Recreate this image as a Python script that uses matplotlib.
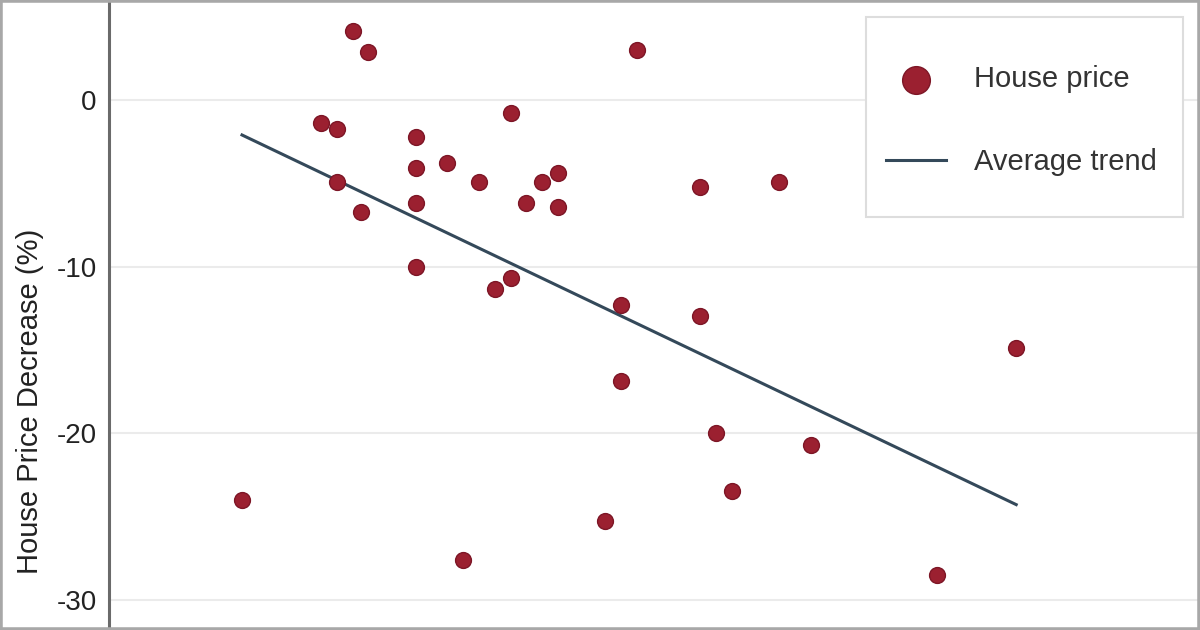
import matplotlib
matplotlib.use("Agg")
import matplotlib.pyplot as plt
from matplotlib.patches import Rectangle

plt.rcParams['font.family'] = ['Liberation Sans', 'DejaVu Sans']

# Data
x_values = [0, 5, 6, 6, 7, 7.5, 8, 11, 11, 11, 11, 13, 14, 15, 16, 17, 17,
            18, 19, 20, 20, 23, 24, 24, 25, 29, 29, 30, 31, 34, 36, 44, 49]
price_change = [-24.0, -1.4, -1.75, -4.9, 4.15, -6.7, 2.9, -2.2, -4.1, -6.2,
                -10.0, -3.8, -27.6, -4.9, -11.35, -0.8, -10.7, -6.2, -4.9,
                -4.4, -6.4, -25.3, -12.3, -16.9, 3.0, -5.2, -13.0, -20.0,
                -23.5, -4.9, -20.7, -28.5, -14.9]
trend_x = [0, 49]
trend_y = [-2.1, -24.3]
y_ticks = [0, -10, -20, -30]
y_tick_labels = ['0', '-10', '-20', '-30']

W, H = 1200, 630
fig = plt.figure(figsize=(W / 100, H / 100), dpi=100)
ax = fig.add_axes([109 / W, 0, 1 - 109 / W, 1])

ax.scatter(x_values, price_change, s=130, color='#9b2030', edgecolor='#7d1626',
           linewidth=1, zorder=3, label='House price')
ax.plot(trend_x, trend_y, color='#34495a', linewidth=2.2, zorder=2,
        label='Average trend')

ax.set_xlim(-8.418, -8.418 + (W - 109) / 15.8)
ax.set_ylim(-31.83, 6.006)

ax.set_yticks(y_ticks)
ax.set_yticklabels(y_tick_labels, fontsize=20, color='#222222')
ax.tick_params(axis='y', length=0, pad=9)
ax.set_xticks([])
ax.grid(axis='y', color='#ebebeb', linewidth=1.5, zorder=0)
ax.set_axisbelow(True)

for side in ['top', 'right', 'bottom']:
    ax.spines[side].set_visible(False)
ax.spines['left'].set_color('#6a6a6a')
ax.spines['left'].set_linewidth(2.2)

ax.set_ylabel('House Price Decrease (%)', fontsize=21, color='#222222')
ax.yaxis.set_label_coords(44 / W, 1 - 401 / H, transform=fig.transFigure)

# legend frame drawn separately to match the reference padding
ax.add_patch(Rectangle((866 / W, 1 - 217 / H), (1183 - 866) / W, 200 / H,
                       transform=fig.transFigure, facecolor='white',
                       edgecolor='#dddddd', linewidth=1.5, zorder=4.5,
                       clip_on=False))
leg = ax.legend(loc='center left', bbox_to_anchor=(886 / W, 1 - 120.5 / H),
                bbox_transform=fig.transFigure, borderaxespad=0,
                fontsize=21, markerscale=1.75, frameon=False,
                borderpad=0, labelspacing=1.87,
                handlelength=2.05, handletextpad=0.98)
leg.set_zorder(6)
for t in leg.get_texts():
    t.set_color('#333333')

fig.patches.append(Rectangle((0, 0), 1, 1, transform=fig.transFigure,
                             fill=False, edgecolor='#a8a8a8', linewidth=4,
                             zorder=10))

fig.savefig('out.png', dpi=100)
